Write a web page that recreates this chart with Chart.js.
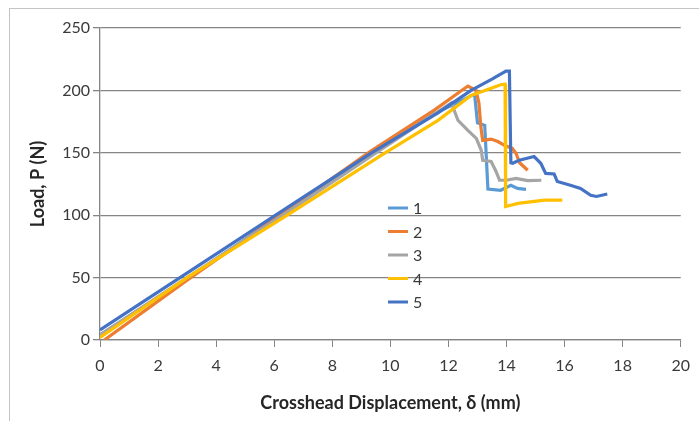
<!DOCTYPE html>
<html>
<head>
<meta charset="utf-8">
<script src="https://cdn.jsdelivr.net/npm/chart.js@4.4.1/dist/chart.umd.min.js"></script>
<style>
  html, body { margin: 0; padding: 0; background: #fff; }
  #wrap { position: relative; width: 699px; height: 421px; overflow: hidden; }
  #frame { position: absolute; left: 9px; top: 8px; width: 720px; height: 440px; border: 1px solid #c4c4c4; }
  canvas { position: absolute; left: 0; top: 0; }
</style>
</head>
<body>
<div id="wrap">
  <div id="frame"></div>
  <canvas id="chart" width="699" height="421"></canvas>
</div>
<script>
// specimen labels and colours
const seriesNames = ['1', '2', '3', '4', '5'];
const seriesColors = ['#5B9BD5', '#ED7D31', '#A5A5A5', '#FFC000', '#4472C4'];

// crosshead displacement (mm) / load (N)
const disp1 = [0, 3, 6.2, 9.4, 11.5, 12.9, 13.0, 13.25, 13.36, 13.8, 14.15, 14.38, 14.67];
const load1 = [4, 49, 100, 150, 181, 197, 174, 172, 121, 120, 124, 121.5, 120.7];

const disp2 = [0.15, 3, 6.2, 9.3, 11.5, 12.67, 12.95, 13.05, 13.12, 13.18, 13.47, 13.7, 13.93, 14.2, 14.33, 14.45, 14.73];
const load2 = [0, 48, 100, 151, 184, 203.5, 200, 190, 170, 160, 161, 159, 156, 153.5, 149.5, 142, 136];

const disp3 = [0, 3, 6.3, 9.5, 12.1, 12.33, 12.67, 12.96, 13.13, 13.18, 13.47, 13.64, 13.76, 13.98, 14.33, 14.73, 15.2];
const load3 = [4, 50, 100, 150, 190, 176, 168, 161.5, 152, 144, 143, 135, 128, 128, 129.5, 127.7, 128];

const disp4 = [0, 3, 6.45, 9.82, 11.64, 12.78, 13.8, 13.95, 13.97, 14.4, 15.3, 15.92];
const load4 = [2, 50, 100, 150, 176, 196, 204.5, 205, 107, 109.5, 112, 112];

const disp5 = [0, 6.05, 9.35, 11.64, 12.78, 13.5, 13.98, 14.1, 14.15, 14.21, 14.44, 14.95, 15.18, 15.35, 15.64, 15.75, 16.2, 16.55, 16.9, 17.1, 17.47];
const load5 = [8, 100, 150, 182, 200, 209, 215.5, 215.5, 142, 141.6, 144, 147, 141.6, 133.5, 133, 127, 124, 121.5, 116, 115, 117];

const allDisp = [disp1, disp2, disp3, disp4, disp5];
const allLoad = [load1, load2, load3, load4, load5];

const xTicks = { min: 0, max: 20, step: 2 };
const yTicks = { min: 0, max: 250, step: 50 };

const FONT = 'Lato, "Open Sans", sans-serif';

// legend sits inside the plot, like the Excel one
const insideLegend = {
  id: 'insideLegend',
  afterDraw(chart) {
    const ctx = chart.ctx;
    const x0 = 388, y0 = 208, step = 23.5, len = 20;
    ctx.save();
    ctx.font = '16px ' + FONT;
    ctx.textBaseline = 'middle';
    ctx.textAlign = 'left';
    chart.data.datasets.forEach((ds, i) => {
      const y = y0 + i * step;
      ctx.strokeStyle = ds.borderColor;
      ctx.lineWidth = 3;
      ctx.beginPath();
      ctx.moveTo(x0, y);
      ctx.lineTo(x0 + len, y);
      ctx.stroke();
      ctx.fillStyle = '#3a3a3a';
      ctx.fillText(ds.label, x0 + len + 5, y + 1);
    });
    ctx.restore();
  }
};

const datasets = seriesNames.map((name, i) => ({
  label: name,
  data: allDisp[i].map((d, j) => ({ x: d, y: allLoad[i][j] })),
  borderColor: seriesColors[i],
  backgroundColor: seriesColors[i],
  borderWidth: 3.2,
  pointRadius: 0,
  showLine: true,
  tension: 0,
  order: seriesNames.length - i  // last series on top, as in Excel
}));

new Chart(document.getElementById('chart'), {
  type: 'scatter',
  data: { datasets: datasets },
  options: {
    responsive: false,
    animation: false,
    devicePixelRatio: 1,
    layout: { padding: { left: 25, right: 11, top: 28, bottom: 4 } },
    plugins: {
      legend: { display: false },
      tooltip: { enabled: false }
    },
    scales: {
      x: {
        type: 'linear',
        min: xTicks.min,
        max: xTicks.max,
        afterFit: (s) => { s.height = 77; },
        ticks: {
          stepSize: xTicks.step,
          padding: 9,
          color: '#3a3a3a',
          font: { family: FONT, size: 16 }
        },
        grid: {
          drawOnChartArea: false,
          drawTicks: true,
          tickLength: 7,
          color: '#858585'
        },
        border: { color: '#858585', width: 1.3 },
        title: {
          display: true,
          text: 'Crosshead Displacement, δ (mm)',
          color: '#262626',
          font: { family: FONT, size: 18, weight: 'bold' },
          padding: { top: 0, bottom: 3 }
        }
      },
      y: {
        min: yTicks.min,
        max: yTicks.max,
        afterFit: (s) => { s.width = 75; },
        ticks: {
          stepSize: yTicks.step,
          padding: 3,
          color: '#3a3a3a',
          font: { family: FONT, size: 16 }
        },
        grid: {
          drawOnChartArea: true,
          drawTicks: true,
          tickLength: 7,
          color: '#858585',
          lineWidth: 1.3
        },
        border: { color: '#858585', width: 1.3 },
        title: {
          display: true,
          text: 'Load, P (N)',
          color: '#262626',
          font: { family: FONT, size: 18, weight: 'bold' },
          padding: { top: 2, bottom: 0 }
        }
      }
    }
  },
  plugins: [insideLegend]
});
</script>
</body>
</html>
